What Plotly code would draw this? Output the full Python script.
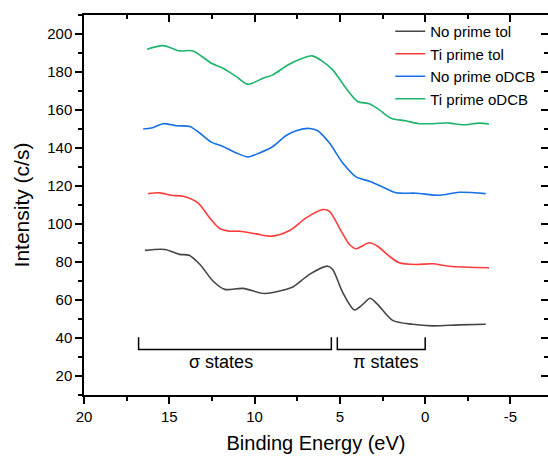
import plotly.graph_objects as go

# Binding energy (eV) and intensity (c/s) for each series
be_no_tol = [16.43, 15.26, 14.39, 13.84, 13.2, 12.44, 11.75, 10.68, 9.42, 8.15, 7.76, 6.78, 5.71, 5.42,
             4.83, 4.15, 3.66, 3.23, 2.79, 1.91, 0.74, -0.43, -1.99, -3.55]
int_no_tol = [86.1, 86.6, 84.0, 83.6, 78.7, 70.0, 65.6, 66.1, 63.4, 65.6, 66.8, 73.5, 77.8, 76.1,
              63.9, 54.8, 57.7, 60.9, 57.7, 49.3, 47.2, 46.4, 46.9, 47.2]

be_ti_tol = [16.24, 15.56, 14.87, 14.19, 13.32, 12.63, 12.05, 11.46, 10.88, 9.9, 9.02, 7.95, 6.98, 6.0,
             5.61, 5.03, 4.44, 4.05, 3.27, 2.79, 2.11, 1.52, 0.54, -0.43, -1.4, -3.74]
int_ti_tol = [116.0, 116.4, 115.1, 114.6, 111.1, 103.2, 97.6, 96.2, 96.2, 94.8, 93.6, 96.6, 103.2, 107.6,
              106.7, 98.0, 89.2, 87.0, 90.1, 88.3, 83.1, 79.6, 78.7, 79.1, 77.8, 77.0]

be_no_odcb = [16.53, 16.04, 15.36, 14.58, 13.8, 13.22, 12.53, 11.85, 11.07, 10.39, 9.71, 8.93, 8.15,
              7.56, 6.78, 6.3, 5.61, 4.83, 4.05, 3.27, 2.5, 1.71, 0.54, -0.82, -1.99, -3.55]
int_no_odcb = [150.0, 150.5, 152.8, 151.7, 151.3, 147.9, 143.1, 140.8, 137.4, 135.3, 137.4, 140.8, 146.6,
               149.1, 150.3, 149.1, 142.6, 132.1, 124.8, 122.5, 119.5, 116.4, 116.2, 115.1, 116.7, 116.0]

be_ti_odcb = [16.3, 15.36, 14.39, 13.61, 12.53, 11.85, 11.07, 10.39, 9.51, 8.93, 8.05, 7.18, 6.63, 6.0,
              5.42, 4.64, 3.96, 3.27, 2.69, 2.01, 1.13, 0.35, -1.4, -2.18, -3.16, -3.74]
int_ti_odcb = [192.0, 193.9, 191.1, 191.1, 184.6, 182.0, 177.6, 173.6, 176.7, 178.5, 183.7, 187.2, 188.5,
               185.5, 181.1, 171.5, 164.5, 163.3, 160.1, 155.7, 154.3, 152.8, 153.1, 152.2, 153.1, 152.6]

series_names = ["No prime tol", "Ti prime tol", "No prime oDCB", "Ti prime oDCB"]
series_colors = ["#454545", "#ff3b3b", "#1670e6", "#1db46c"]

x_tick_vals = [20, 15, 10, 5, 0, -5]
x_tick_text = ["20", "15", "10", "5", "0", "-5"]

# Region brackets (eV) and labels
sigma_range = [16.8, 5.5]
pi_range = [5.15, 0.0]
region_labels = ["σ states", "π states"]

xs = [be_no_tol, be_ti_tol, be_no_odcb, be_ti_odcb]
ys = [int_no_tol, int_ti_tol, int_no_odcb, int_ti_odcb]

fig = go.Figure()
for x, y, name, c in zip(xs, ys, series_names, series_colors):
    fig.add_trace(go.Scatter(x=x, y=y, mode="lines", name=name,
                             line=dict(color=c, width=1.6, shape="spline", smoothing=0.8)))

# invisible trace for mirrored (inside) ticks on top/right
fig.add_trace(go.Scatter(x=[None], y=[None], xaxis="x2", yaxis="y2", showlegend=False,
                         hoverinfo="skip"))

XR = [20, -7.2]
YR = [10, 210]
font = "Liberation Sans, Arial, sans-serif"

br_top, br_bot = 40.4, 34.0
for r in (sigma_range, pi_range):
    fig.add_shape(type="path", xref="x", yref="y",
                  path=f"M {r[0]},{br_top} L {r[0]},{br_bot} L {r[1]},{br_bot} L {r[1]},{br_top}",
                  line=dict(color="black", width=1.5))

fig.add_annotation(x=(sigma_range[0] + sigma_range[1]) / 2 + 0.8, y=27.3, text=region_labels[0],
                   showarrow=False, font=dict(size=18, color="black", family=font))
fig.add_annotation(x=(pi_range[0] + pi_range[1]) / 2 - 0.25, y=27.3, text=region_labels[1],
                   showarrow=False, font=dict(size=18, color="black", family=font))

tick_common = dict(showgrid=False, zeroline=False, showline=True, linecolor="black", linewidth=1.5,
                   ticklen=7, tickwidth=1.5, tickcolor="black", automargin=False)

fig.update_layout(
    width=548, height=457,
    margin=dict(l=84, r=0, t=15, b=62, autoexpand=False),
    plot_bgcolor="white", paper_bgcolor="white",
    font=dict(family=font, color="black"),
    showlegend=True,
    legend=dict(x=0.66, y=1.0, xanchor="left", yanchor="top",
                font=dict(size=15, family=font, color="black"),
                bgcolor="rgba(0,0,0,0)", borderwidth=0, tracegroupgap=0),
    xaxis=dict(range=XR, ticks="outside", tickvals=x_tick_vals, ticktext=x_tick_text,
               minor=dict(dtick=2.5, ticks="outside", ticklen=4, tickwidth=1.5, tickcolor="black"),
               tickfont=dict(size=15),
               title=dict(text="Binding Energy (eV)", font=dict(size=20), standoff=12),
               **tick_common),
    yaxis=dict(range=YR, ticks="outside", dtick=20, tick0=0,
               minor=dict(dtick=10, ticks="outside", ticklen=4, tickwidth=1.5, tickcolor="black"),
               tickfont=dict(size=15),
               title=dict(text="Intensity (c/s)", font=dict(size=21), standoff=12),
               **tick_common),
    xaxis2=dict(range=XR, overlaying="x", side="top", anchor="y2", ticks="inside",
                tickvals=x_tick_vals, showticklabels=False,
                minor=dict(dtick=2.5, ticks="inside", ticklen=4, tickwidth=1.5, tickcolor="black"),
                **tick_common),
    yaxis2=dict(range=YR, overlaying="y", side="right", anchor="x2", ticks="inside",
                dtick=20, tick0=0, showticklabels=False,
                minor=dict(dtick=10, ticks="inside", ticklen=4, tickwidth=1.5, tickcolor="black"),
                **tick_common),
)

fig.write_html("out.html", config={"displayModeBar": False},
               post_script="document.body.style.margin='0';document.body.style.overflow='hidden';")
